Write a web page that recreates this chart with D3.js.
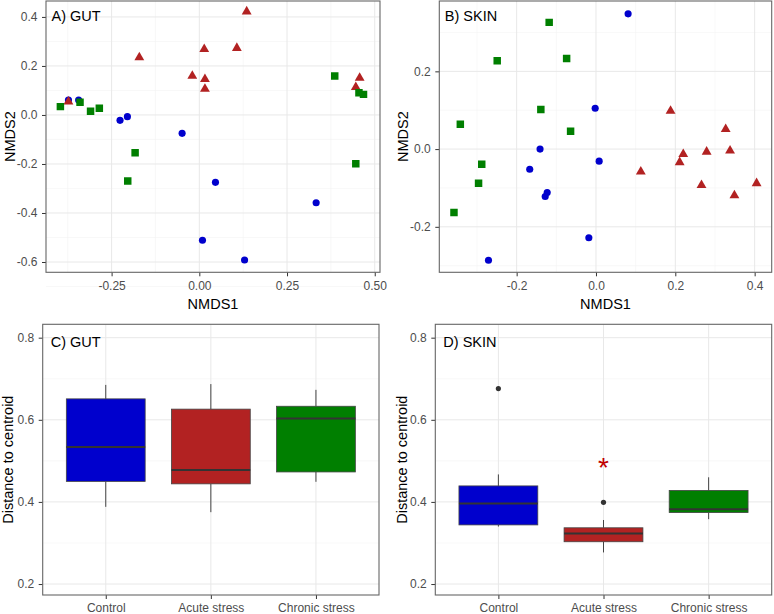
<!DOCTYPE html>
<html><head><meta charset="utf-8">
<script src="https://cdn.jsdelivr.net/npm/d3@7"></script>
<style>
body{margin:0;background:#fff}
text{font-family:"Liberation Sans",Arial,Helvetica,sans-serif}
</style>
</head><body>
<svg id="chart" width="774" height="614"></svg>
<script>
// ---------- DATA ----------
const groups = ["Control", "Acute stress", "Chronic stress"];

// NMDS ordination, GUT  [NMDS1, NMDS2]
const gutControl = [[-0.373,0.061],[-0.344,0.061],[-0.226,-0.022],[-0.205,-0.007],[-0.049,-0.075],[0.046,-0.275],[0.333,-0.358],[0.009,-0.511],[0.129,-0.592]];
const gutAcute = [[0.135,0.422],[-0.171,0.235],[0.014,0.268],[0.107,0.273],[-0.020,0.159],[0.016,0.146],[0.016,0.106],[0.457,0.151],[0.446,0.113],[-0.373,0.054]];
const gutChronic = [[-0.396,0.034],[-0.340,0.052],[-0.310,0.015],[-0.285,0.027],[-0.183,-0.154],[-0.204,-0.269],[0.386,0.159],[0.455,0.091],[0.468,0.084],[0.446,-0.199]];

// NMDS ordination, SKIN
const skinControl = [[0.081,0.348],[-0.002,0.105],[-0.141,0.000],[0.008,-0.031],[-0.167,-0.052],[-0.123,-0.112],[-0.128,-0.122],[-0.018,-0.228],[-0.271,-0.286]];
const skinAcute = [[0.188,0.098],[0.327,0.051],[0.113,-0.058],[0.220,-0.013],[0.211,-0.034],[0.279,-0.007],[0.338,-0.004],[0.266,-0.093],[0.405,-0.088],[0.349,-0.119]];
const skinChronic = [[-0.118,0.326],[-0.249,0.227],[-0.074,0.233],[-0.139,0.102],[-0.342,0.064],[-0.064,0.046],[-0.288,-0.039],[-0.296,-0.088],[-0.358,-0.163]];

// Distance to centroid boxplots: [lower whisker, Q1, median, Q3, upper whisker]
const gutBox = [[0.388,0.450,0.534,0.651,0.685],[0.375,0.444,0.478,0.626,0.687],[0.449,0.473,0.603,0.633,0.673]];
const skinBox = [[0.340,0.344,0.396,0.439,0.467],[0.277,0.303,0.323,0.337,0.356],[0.358,0.374,0.382,0.428,0.460]];
const gutOutliers = [];
const skinOutliers = [["Control",0.676],["Acute stress",0.399]];
const skinSignif = [["Acute stress",0.494]];

// Tick values / labels
const gutXTicks = [-0.25,0,0.25,0.5], gutXLabels = ["-0.25","0.00","0.25","0.50"];
const gutYTicks = [0.4,0.2,0,-0.2,-0.4,-0.6], gutYLabels = ["0.4","0.2","0.0","-0.2","-0.4","-0.6"];
const skinXTicks = [-0.2,0,0.2,0.4], skinXLabels = ["-0.2","0.0","0.2","0.4"];
const skinYTicks = [0.2,0,-0.2], skinYLabels = ["0.2","0.0","-0.2"];
const boxYTicks = [0.2,0.4,0.6,0.8], boxYLabels = ["0.2","0.4","0.6","0.8"];

// ---------- STYLE ----------
const groupColors = ["#0000CD","#B22222","#007F00"];
const shapes = [d3.symbolCircle, d3.symbolTriangle, d3.symbolSquare];
const shapeSizes = [40, 42, 56];
const svg = d3.select("#chart");

function minorBetween(ticks){
  const s = ticks.slice().sort((a,b)=>a-b); const out=[];
  for(let i=0;i<s.length-1;i++) out.push((s[i]+s[i+1])/2);
  return out;
}

function frame(box, x, y, xGrid, yMajor, yMinor, xMinor){
  const g = svg.append("g");
  g.selectAll(".ymin").data(yMinor).join("line")
    .attr("x1",box.l).attr("x2",box.r).attr("y1",d=>y(d)).attr("y2",d=>y(d))
    .attr("stroke","#F3F3F3").attr("stroke-width",0.6);
  g.selectAll(".xmin").data(xMinor).join("line")
    .attr("y1",box.t).attr("y2",box.b).attr("x1",d=>x(d)).attr("x2",d=>x(d))
    .attr("stroke","#F3F3F3").attr("stroke-width",0.6);
  g.selectAll(".ymaj").data(yMajor).join("line")
    .attr("x1",box.l).attr("x2",box.r).attr("y1",d=>y(d)).attr("y2",d=>y(d))
    .attr("stroke","#E8E8E8").attr("stroke-width",1);
  g.selectAll(".xmaj").data(xGrid).join("line")
    .attr("y1",box.t).attr("y2",box.b).attr("x1",d=>x(d)).attr("x2",d=>x(d))
    .attr("stroke","#E8E8E8").attr("stroke-width",1);
  return g;
}

function axes(box, x, y, xTicks, xLabels, yTicks, yLabels, xPad){
  const ax = svg.append("g").attr("transform",`translate(0,${box.b})`)
    .call(d3.axisBottom(x).tickValues(xTicks).tickFormat((d,i)=>xLabels[i]).tickSize(4).tickSizeOuter(0).tickPadding(xPad));
  const ay = svg.append("g").attr("transform",`translate(${box.l},0)`)
    .call(d3.axisLeft(y).tickValues(yTicks).tickFormat((d,i)=>yLabels[i]).tickSize(4).tickSizeOuter(0).tickPadding(4.5));
  [ax,ay].forEach(a=>{
    a.select(".domain").remove();
    a.selectAll(".tick line").attr("stroke","#333").attr("stroke-width",1);
    a.selectAll(".tick text").attr("fill","#4D4D4D").attr("font-size",12)
      .attr("font-family","'Liberation Sans',Arial,sans-serif");
  });
}

function border(box){
  svg.append("rect").attr("x",box.l).attr("y",box.t).attr("width",box.r-box.l).attr("height",box.b-box.t)
    .attr("fill","none").attr("stroke","#666").attr("stroke-width",1.1);
}

function label(txt, x, y){
  svg.append("text").attr("x",x).attr("y",y).attr("font-size",14.5).attr("fill","#000").text(txt);
}
function yTitle(txt, x, cy){
  svg.append("text").attr("transform",`translate(${x},${cy}) rotate(-90)`).attr("text-anchor","middle")
    .attr("font-size",14.5).attr("fill","#000").text(txt);
}
function xTitle(txt, cx, y){
  svg.append("text").attr("x",cx).attr("y",y).attr("text-anchor","middle")
    .attr("font-size",14.5).attr("fill","#000").text(txt);
}

function scatterPanel(box, xDom, yDom, xTicks, xLabels, yTicks, yLabels, sets, name, yTitleX){
  const x = d3.scaleLinear().domain(xDom).range([box.l, box.r]);
  const y = d3.scaleLinear().domain(yDom).range([box.b, box.t]);
  const yStep = Math.abs(yTicks[0]-yTicks[1]);
  frame(box, x, y, xTicks, yTicks,
    minorBetween(yTicks).concat([d3.max(yTicks)+yStep/2, d3.min(yTicks)-yStep/2]),
    minorBetween(xTicks).concat([xTicks[0]-(xTicks[1]-xTicks[0])/2]));
  const clip = "clip"+name.replace(/\W/g,"");
  svg.append("clipPath").attr("id",clip).append("rect")
    .attr("x",box.l).attr("y",box.t).attr("width",box.r-box.l).attr("height",box.b-box.t);
  const pts = svg.append("g").attr("clip-path",`url(#${clip})`);
  sets.forEach((set,i)=>{
    pts.selectAll(null).data(set).join("path")
      .attr("transform",d=>`translate(${x(d[0])},${y(d[1])})`)
      .attr("d", d3.symbol().type(shapes[i]).size(shapeSizes[i]))
      .attr("fill", groupColors[i]);
  });
  axes(box, x, y, xTicks, xLabels, yTicks, yLabels, 4.7);
  border(box);
  label(name, box.l+5.5, box.t+20);
  xTitle("NMDS1", (box.l+box.r)/2, 308.5);
  yTitle("NMDS2", yTitleX, (box.t+box.b)/2);
}

function boxPanel(box, stats, outliers, signif, name, yTitleX){
  const x = d3.scalePoint().domain(groups).range([box.l, box.r]).padding(0.6);
  const y = d3.scaleLinear().domain([0.1733,0.8326]).range([box.b, box.t]);
  frame(box, x, y, groups, boxYTicks, [0.3,0.5,0.7], []);
  const w = x.step()*0.75;
  const g = svg.append("g");
  stats.forEach((s,i)=>{
    const cx = x(groups[i]);
    g.append("line").attr("x1",cx).attr("x2",cx).attr("y1",y(s[0])).attr("y2",y(s[1])).attr("stroke","#444").attr("stroke-width",1);
    g.append("line").attr("x1",cx).attr("x2",cx).attr("y1",y(s[3])).attr("y2",y(s[4])).attr("stroke","#444").attr("stroke-width",1);
    g.append("rect").attr("x",cx-w/2).attr("y",y(s[3])).attr("width",w).attr("height",y(s[1])-y(s[3]))
      .attr("fill",groupColors[i]).attr("stroke","#444").attr("stroke-width",0.8);
    g.append("line").attr("x1",cx-w/2).attr("x2",cx+w/2).attr("y1",y(s[2])).attr("y2",y(s[2]))
      .attr("stroke","#333").attr("stroke-width",2);
  });
  g.selectAll(".out").data(outliers).join("circle")
    .attr("cx",d=>x(d[0])).attr("cy",d=>y(d[1])).attr("r",2.6).attr("fill","#333");
  g.selectAll(".sig").data(signif).join("text")
    .attr("x",d=>x(d[0])).attr("y",d=>y(d[1])+14).attr("text-anchor","middle")
    .attr("font-size",28).attr("fill","#C00000").text("*");
  axes(box, x, y, groups, groups, boxYTicks, boxYLabels, 4.5);
  border(box);
  label(name, box.l+8, 347);
  yTitle("Distance to centroid", yTitleX, (box.t+box.b)/2);
}

// ---------- PANELS ----------
scatterPanel({l:46,r:380,t:1,b:272.3}, [-0.437,0.515], [-0.642,0.465],
  gutXTicks, gutXLabels, gutYTicks, gutYLabels, [gutControl,gutAcute,gutChronic], "A) GUT", 15);
scatterPanel({l:439.3,r:771.7,t:1,b:272.3}, [-0.395,0.443], [-0.317,0.381],
  skinXTicks, skinXLabels, skinYTicks, skinYLabels, [skinControl,skinAcute,skinChronic], "B) SKIN", 407.5);
boxPanel({l:42.7,r:379,t:324.3,b:595}, gutBox, gutOutliers, [], "C) GUT", 13.3);
boxPanel({l:435.3,r:771.7,t:324.3,b:595}, skinBox, skinOutliers, skinSignif, "D) SKIN", 406.5);
</script>
</body></html>
